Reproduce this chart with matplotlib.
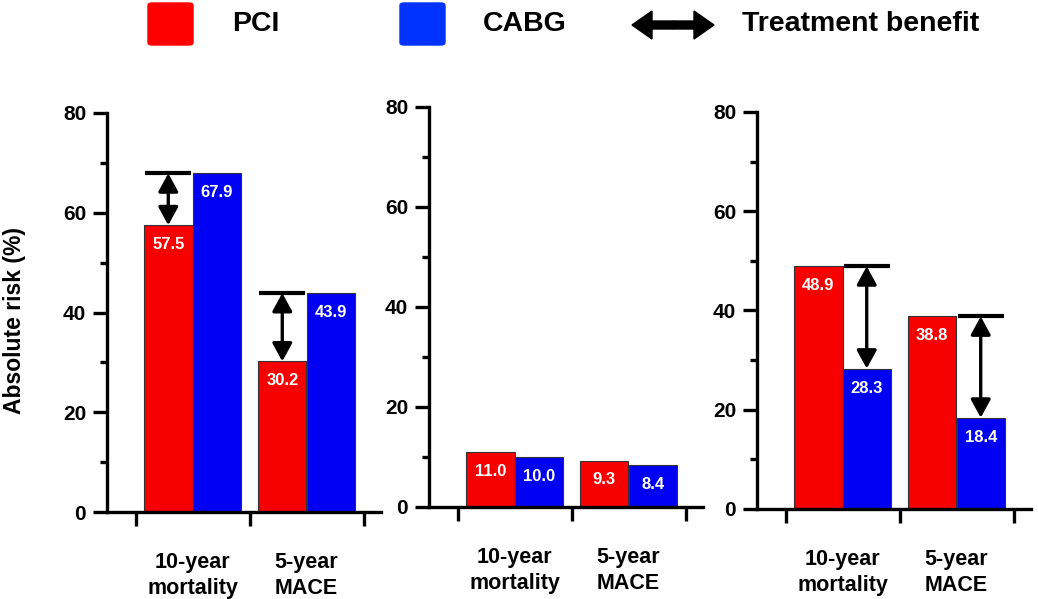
import matplotlib
matplotlib.use('Agg')
import matplotlib.pyplot as plt
from matplotlib.patches import FancyBboxPatch, FancyArrow
from matplotlib.ticker import FixedLocator, NullFormatter, FixedFormatter

plt.rcParams['font.family'] = ['Liberation Sans', 'DejaVu Sans']
plt.rcParams['font.weight'] = 'bold'

_RED = '#f70000'
_BLUE = '#0000f2'
_LEG_RED = '#ff0000'
_LEG_BLUE = '#0033ff'

categories = ['10-year\nmortality', '5-year\nMACE']
yticks = [0, 20, 40, 60, 80]

# absolute risk (%) per panel: PCI, CABG
pci_1 = [57.5, 30.2]
cabg_1 = [67.9, 43.9]
pci_2 = [11.0, 9.3]
cabg_2 = [10.0, 8.4]
pci_3 = [48.9, 38.8]
cabg_3 = [28.3, 18.4]

W, H = 1038, 599
fig = plt.figure(figsize=(W / 100, H / 100), dpi=100)

# axes boxes in pixels: left, y of 0-line, y of 80-line
boxes = [(107, 512, 113), (429, 507, 107), (757, 509, 112)]
XLIM = (-0.75, 1.65)
px_per_unit = 114
BW = 0.425


def make_axes(left, y0, y80):
    width = (XLIM[1] - XLIM[0]) * px_per_unit
    ax = fig.add_axes([left / W, (H - y0) / H, width / W, (y0 - y80) / H])
    ax.set_xlim(*XLIM)
    ax.set_ylim(0, 80)
    for side in ('top', 'right'):
        ax.spines[side].set_visible(False)
    for side in ('left', 'bottom'):
        ax.spines[side].set_linewidth(2.4)
        ax.spines[side].set_color('black')
    ax.yaxis.set_major_locator(FixedLocator(yticks))
    ax.yaxis.set_minor_locator(FixedLocator([10, 30, 50, 70]))
    ax.tick_params(axis='y', which='major', length=10, width=2.4, labelsize=15, pad=5)
    ax.tick_params(axis='y', which='minor', length=5, width=2.4)
    ax.xaxis.set_major_locator(FixedLocator([-0.5, 0.5, 1.5]))
    ax.xaxis.set_major_formatter(NullFormatter())
    ax.xaxis.set_minor_locator(FixedLocator([0, 1]))
    ax.xaxis.set_minor_formatter(FixedFormatter(categories))
    ax.tick_params(axis='x', which='minor', length=0, labelsize=15.5, pad=29)
    ax.tick_params(axis='x', which='major', length=10, width=2.4)
    for lbl in ax.get_yticklabels():
        lbl.set_fontweight('bold')
    for lbl in ax.get_xticklabels(minor=True):
        lbl.set_fontweight('bold')
        lbl.set_linespacing(1.3)
    return ax


def draw_bars(ax, pci, cabg):
    xs = range(len(categories))
    for x, p, c in zip(xs, pci, cabg):
        for xc, v, col in ((x - BW / 2, p, _RED), (x + BW / 2, c, _BLUE)):
            ax.bar(xc, v, width=BW, color=col, edgecolor='#333333', linewidth=0.8, zorder=2)
            ax.annotate(f'{v:.1f}', (xc, v), xytext=(0, -14), textcoords='offset points',
                        ha='center', va='center', color='white', fontsize=12,
                        fontweight='bold', zorder=3)


def benefit(ax, x, top, bottom):
    # bracket at the higher value over the lower bar, arrow between both values
    ax.plot([x - BW / 2 + 0.01, x + BW / 2 - 0.01], [top, top], color='black',
            lw=3, solid_capstyle='butt', zorder=4)
    ax.annotate('', xy=(x, bottom), xytext=(x, top),
                arrowprops=dict(arrowstyle='<|-|>,head_length=0.55,head_width=0.3',
                                color='black', lw=2.4, shrinkA=0, shrinkB=0,
                                mutation_scale=20), zorder=4)


ax1 = make_axes(*boxes[0])
draw_bars(ax1, pci_1, cabg_1)
for i in range(2):
    benefit(ax1, i - BW / 2, cabg_1[i], pci_1[i])

ax2 = make_axes(*boxes[1])
draw_bars(ax2, pci_2, cabg_2)

ax3 = make_axes(*boxes[2])
draw_bars(ax3, pci_3, cabg_3)
for i in range(2):
    benefit(ax3, i + BW / 2, pci_3[i], cabg_3[i])

fig.text(15 / W, 1 - 320 / H, 'Absolute risk (%)', rotation=90, ha='center', va='center',
         fontsize=16.5, fontweight='bold')

# legend row
for x0, col in ((148, _LEG_RED), (400, _LEG_BLUE)):
    fig.patches.append(FancyBboxPatch((x0 / W, 1 - 45 / H), 45 / W, 42 / H,
                                      boxstyle='round,pad=0,rounding_size=0.004',
                                      transform=fig.transFigure, color=col))
for dx in (41, -41):
    fig.patches.append(FancyArrow(673 / W, 1 - 25 / H, dx / W, 0, width=8 / H,
                                  head_width=28 / H, head_length=20 / W,
                                  length_includes_head=True, transform=fig.transFigure,
                                  color='black'))
for x0, txt in ((232, 'PCI'), (483, 'CABG'), (742, 'Treatment benefit')):
    fig.text(x0 / W, 1 - 24 / H, txt, ha='left', va='center', fontsize=20.5,
             fontweight='bold')

fig.savefig('out.png', dpi=100, facecolor='white')
